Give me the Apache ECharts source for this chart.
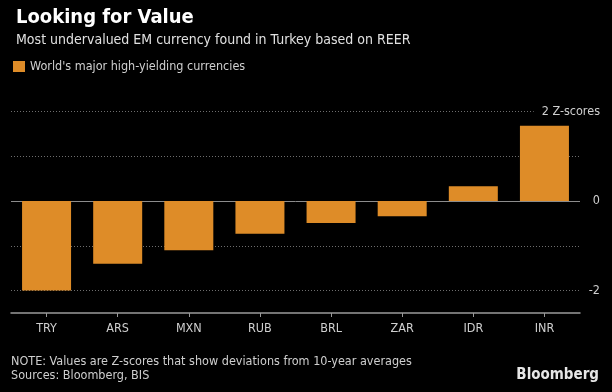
<!DOCTYPE html>
<html>
<head>
<meta charset="utf-8">
<style>
html,body{margin:0;padding:0;background:#000;}
#c{width:612px;height:392px;}
</style>
<script src="https://cdn.jsdelivr.net/npm/echarts@6/dist/echarts.min.js"></script>
</head>
<body>
<div id="c"></div>
<script>
const categories = ['TRY', 'ARS', 'MXN', 'RUB', 'BRL', 'ZAR', 'IDR', 'INR'];
const zScores = [-2.0, -1.40, -1.10, -0.73, -0.49, -0.34, 0.33, 1.68];
const gridValues = [2, 1, -1, -2];
const yLabelValues = [2, 0, -2];
const seriesName = "World's major high-yielding currencies";

const FONT = "'DejaVu Sans Condensed', 'Liberation Sans Narrow', Roboto, sans-serif";
const chart = echarts.init(document.getElementById('c'));

const gridLines = gridValues.map(v => ({
  yAxis: v,
  lineStyle: { color: '#6e6e6e', type: [1, 2], width: 1 }
}));
gridLines.push({ yAxis: 0, lineStyle: { color: '#8c8c8c', type: 'solid', width: 1 } });

chart.setOption({
  backgroundColor: '#000',
  animation: false,
  textStyle: { fontFamily: FONT },
  title: [
    { text: 'Looking for Value', left: 11, top: 3,
      textStyle: { color: '#fff', fontSize: 20, fontWeight: 'bold', fontFamily: FONT } },
    { text: 'Most undervalued EM currency found in Turkey based on REER', left: 11, top: 28,
      textStyle: { color: '#e0e0e0', fontSize: 14, fontWeight: 'normal', fontFamily: FONT } }
  ],
  legend: {
    left: 8, top: 55, icon: 'rect', itemWidth: 12, itemHeight: 11, itemGap: 6,
    textStyle: { color: '#cfcfcf', fontSize: 12.5, fontFamily: FONT },
    data: [seriesName]
  },
  grid: { left: 11, right: 32, top: 89, bottom: 79, containLabel: false },
  xAxis: {
    type: 'category',
    data: categories,
    axisLine: { show: true, onZero: false, lineStyle: { color: '#9a9a9a', width: 1.5 } },
    axisTick: { show: true, alignWithLabel: true, inside: false, length: 4,
      lineStyle: { color: '#9a9a9a', width: 1 } },
    axisLabel: { color: '#cfcfcf', fontSize: 12.5, margin: 9, fontFamily: FONT }
  },
  yAxis: {
    type: 'value',
    position: 'right',
    min: -2.5, max: 2.5,
    z: 10,
    splitLine: { show: false },
    axisLine: { show: false },
    axisTick: { show: false },
    axisLabel: {
      customValues: yLabelValues,
      align: 'right',
      margin: 20,
      color: '#cfcfcf',
      fontSize: 12.5,
      fontFamily: FONT,
      backgroundColor: '#000',
      padding: [0, 0, 0, 8],
      formatter: v => v === 2 ? '2 Z-scores' : String(v)
    }
  },
  series: [{
    name: seriesName,
    type: 'bar',
    data: zScores,
    barWidth: 49,
    itemStyle: { color: '#DE8C28' },
    markLine: {
      silent: true,
      symbol: 'none',
      label: { show: false },
      data: gridLines,
      z: 1
    }
  }]
});

// footer texts
chart.setOption({
  graphic: [
    { type: 'text', left: 11, top: 355,
      style: { text: 'NOTE: Values are Z-scores that show deviations from 10-year averages\nSources: Bloomberg, BIS',
        fill: '#cfcfcf', font: '12.5px ' + FONT, lineHeight: 14 } },
    { type: 'text', right: 13, top: 368,
      style: { text: 'Bloomberg', fill: '#e6e6e6', font: 'bold 15px ' + FONT } }
  ]
});
</script>
</body>
</html>
